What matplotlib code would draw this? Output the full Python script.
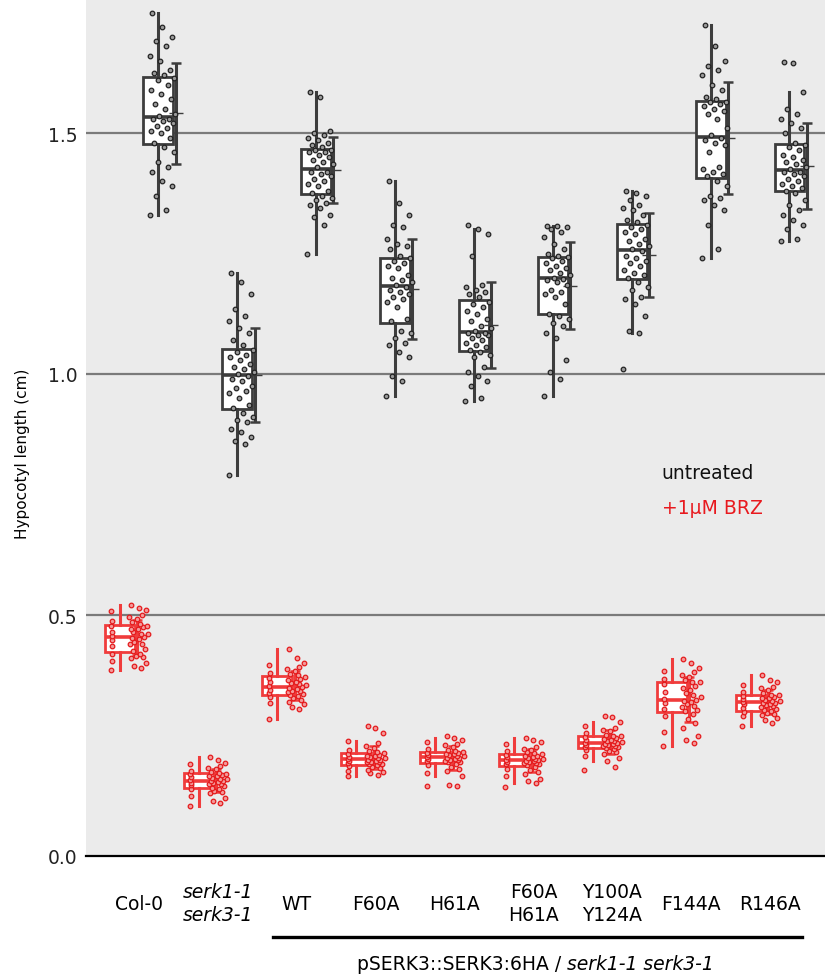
import matplotlib
matplotlib.use("Agg")
import matplotlib.pyplot as plt
import numpy as np

plt.rcParams['font.family'] = ['DejaVu Sans']

categories = ['Col-0', 'serk1-1\nserk3-1', 'WT', 'F60A', 'H61A',
              'F60A\nH61A', 'Y100A\nY124A', 'F144A', 'R146A']
group_label_plain = 'pSERK3::SERK3:6HA / '
group_label_italic = 'serk1-1 serk3-1'
ytick_values = [0.0, 0.5, 1.0, 1.5]
ytick_labels = ['0.0', '0.5', '1.0', '1.5']
legend_labels = ['untreated', '+1\u00b5M BRZ']

# ---- untreated (black) ----
unt_col0 = [1.33, 1.34, 1.37, 1.39, 1.40, 1.42, 1.43, 1.44, 1.46, 1.47,
            1.48, 1.49, 1.50, 1.505, 1.51, 1.515, 1.52, 1.525, 1.53, 1.53,
            1.535, 1.54, 1.55, 1.56, 1.57, 1.58, 1.59, 1.60, 1.61, 1.615,
            1.62, 1.625, 1.63, 1.65, 1.66, 1.68, 1.69, 1.70, 1.72, 1.75]
unt_serk = [0.79, 0.855, 0.86, 0.87, 0.88, 0.885, 0.90, 0.905, 0.91, 0.92,
            0.93, 0.935, 0.95, 0.96, 0.965, 0.97, 0.975, 0.985, 0.99, 0.995,
            1.0, 1.005, 1.01, 1.015, 1.02, 1.03, 1.035, 1.04, 1.045, 1.05,
            1.06, 1.07, 1.085, 1.095, 1.11, 1.12, 1.135, 1.165, 1.19, 1.21]
unt_wt = [1.25, 1.31, 1.325, 1.33, 1.345, 1.35, 1.355, 1.36, 1.365, 1.37,
          1.375, 1.38, 1.39, 1.395, 1.40, 1.405, 1.41, 1.415, 1.42, 1.42,
          1.43, 1.435, 1.44, 1.445, 1.45, 1.455, 1.46, 1.46, 1.465, 1.465,
          1.47, 1.475, 1.48, 1.485, 1.49, 1.495, 1.50, 1.505, 1.575, 1.585]
unt_f60a = [0.955, 0.985, 0.995, 1.035, 1.045, 1.06, 1.065, 1.075, 1.085, 1.09,
            1.11, 1.115, 1.14, 1.15, 1.155, 1.16, 1.165, 1.17, 1.175, 1.18,
            1.185, 1.19, 1.195, 1.20, 1.205, 1.22, 1.225, 1.23, 1.235, 1.24,
            1.245, 1.26, 1.265, 1.27, 1.28, 1.305, 1.31, 1.33, 1.355, 1.40]
unt_h61a = [0.945, 0.95, 0.975, 0.985, 0.995, 1.005, 1.015, 1.035, 1.04, 1.045,
            1.05, 1.055, 1.06, 1.065, 1.07, 1.075, 1.08, 1.08, 1.085, 1.085,
            1.09, 1.095, 1.10, 1.11, 1.115, 1.125, 1.13, 1.14, 1.145, 1.15,
            1.16, 1.165, 1.17, 1.175, 1.18, 1.185, 1.245, 1.29, 1.30, 1.31]
unt_f60h61 = [0.955, 0.99, 1.005, 1.03, 1.075, 1.085, 1.10, 1.105, 1.115, 1.12,
              1.125, 1.145, 1.16, 1.165, 1.17, 1.175, 1.185, 1.19, 1.195, 1.198,
              1.20, 1.205, 1.21, 1.215, 1.22, 1.225, 1.23, 1.235, 1.24, 1.242,
              1.245, 1.25, 1.26, 1.27, 1.285, 1.295, 1.30, 1.305, 1.307, 1.307]
unt_y100 = [1.01, 1.085, 1.09, 1.12, 1.145, 1.155, 1.16, 1.175, 1.18, 1.19,
            1.20, 1.205, 1.21, 1.215, 1.225, 1.23, 1.235, 1.24, 1.245, 1.255,
            1.26, 1.265, 1.27, 1.275, 1.28, 1.29, 1.295, 1.30, 1.305, 1.31,
            1.315, 1.32, 1.33, 1.34, 1.345, 1.35, 1.36, 1.37, 1.375, 1.38]
unt_f144a = [1.24, 1.26, 1.31, 1.34, 1.35, 1.36, 1.365, 1.37, 1.39, 1.40,
             1.41, 1.415, 1.42, 1.425, 1.43, 1.46, 1.475, 1.48, 1.485, 1.49,
             1.495, 1.51, 1.53, 1.54, 1.545, 1.55, 1.555, 1.56, 1.565, 1.565,
             1.57, 1.575, 1.59, 1.60, 1.62, 1.63, 1.64, 1.65, 1.68, 1.725]
unt_r146a = [1.275, 1.28, 1.30, 1.31, 1.32, 1.33, 1.34, 1.35, 1.36, 1.375,
             1.38, 1.385, 1.39, 1.395, 1.40, 1.405, 1.41, 1.415, 1.42, 1.42,
             1.425, 1.43, 1.435, 1.44, 1.445, 1.45, 1.455, 1.465, 1.47, 1.475,
             1.48, 1.50, 1.51, 1.52, 1.53, 1.54, 1.55, 1.585, 1.645, 1.648]

# ---- +1uM BRZ (red) ----
brz_col0 = [0.386, 0.39, 0.395, 0.40, 0.405, 0.41, 0.413, 0.415, 0.42, 0.42,
            0.425, 0.43, 0.435, 0.44, 0.44, 0.445, 0.449, 0.45, 0.452, 0.454,
            0.456, 0.46, 0.46, 0.465, 0.465, 0.47, 0.47, 0.475, 0.477, 0.478,
            0.481, 0.485, 0.488, 0.492, 0.496, 0.50, 0.508, 0.51, 0.515, 0.52]
brz_serk = [0.104, 0.11, 0.115, 0.12, 0.125, 0.13, 0.133, 0.135, 0.138, 0.14,
            0.142, 0.145, 0.147, 0.149, 0.15, 0.151, 0.152, 0.153, 0.155, 0.156,
            0.157, 0.159, 0.16, 0.162, 0.164, 0.165, 0.167, 0.168, 0.17, 0.171,
            0.173, 0.175, 0.177, 0.18, 0.183, 0.187, 0.19, 0.193, 0.20, 0.205]
brz_wt = [0.284, 0.305, 0.309, 0.315, 0.317, 0.32, 0.324, 0.327, 0.33, 0.332,
          0.335, 0.337, 0.338, 0.34, 0.342, 0.343, 0.345, 0.347, 0.348, 0.35,
          0.352, 0.355, 0.357, 0.358, 0.36, 0.362, 0.365, 0.367, 0.369, 0.372,
          0.376, 0.378, 0.38, 0.384, 0.388, 0.392, 0.396, 0.40, 0.411, 0.429]
brz_f60a = [0.166, 0.168, 0.172, 0.175, 0.177, 0.179, 0.182, 0.184, 0.186, 0.188,
            0.19, 0.191, 0.193, 0.194, 0.195, 0.196, 0.197, 0.198, 0.199, 0.20,
            0.202, 0.203, 0.204, 0.205, 0.206, 0.207, 0.208, 0.21, 0.211, 0.213,
            0.215, 0.218, 0.22, 0.225, 0.229, 0.234, 0.239, 0.255, 0.265, 0.27]
brz_h61a = [0.145, 0.146, 0.147, 0.165, 0.172, 0.176, 0.18, 0.185, 0.188, 0.191,
            0.194, 0.196, 0.197, 0.198, 0.199, 0.20, 0.201, 0.202, 0.203, 0.204,
            0.206, 0.207, 0.208, 0.209, 0.21, 0.211, 0.212, 0.213, 0.214, 0.215,
            0.217, 0.219, 0.222, 0.226, 0.23, 0.233, 0.236, 0.24, 0.245, 0.249]
brz_f60h61 = [0.143, 0.152, 0.156, 0.16, 0.165, 0.17, 0.175, 0.178, 0.181, 0.185,
              0.188, 0.19, 0.191, 0.192, 0.193, 0.195, 0.196, 0.197, 0.198, 0.199,
              0.20, 0.201, 0.202, 0.203, 0.205, 0.206, 0.207, 0.208, 0.21, 0.211,
              0.213, 0.215, 0.218, 0.22, 0.222, 0.226, 0.232, 0.236, 0.24, 0.245]
brz_y100 = [0.179, 0.184, 0.197, 0.203, 0.208, 0.212, 0.215, 0.218, 0.22, 0.222,
            0.225, 0.226, 0.227, 0.228, 0.229, 0.23, 0.231, 0.232, 0.233, 0.234,
            0.235, 0.236, 0.238, 0.239, 0.24, 0.241, 0.243, 0.245, 0.246, 0.248,
            0.25, 0.252, 0.255, 0.259, 0.262, 0.265, 0.27, 0.278, 0.289, 0.291]
brz_f144a = [0.228, 0.235, 0.241, 0.249, 0.257, 0.265, 0.276, 0.284, 0.29, 0.295,
             0.30, 0.303, 0.306, 0.309, 0.312, 0.315, 0.317, 0.32, 0.322, 0.323,
             0.326, 0.33, 0.334, 0.338, 0.341, 0.344, 0.348, 0.353, 0.356, 0.36,
             0.362, 0.365, 0.368, 0.371, 0.376, 0.382, 0.384, 0.39, 0.40, 0.409]
brz_r146a = [0.27, 0.276, 0.282, 0.286, 0.29, 0.293, 0.295, 0.297, 0.299, 0.30,
             0.302, 0.305, 0.307, 0.309, 0.311, 0.313, 0.315, 0.316, 0.317, 0.318,
             0.32, 0.321, 0.322, 0.324, 0.326, 0.327, 0.328, 0.33, 0.332, 0.333,
             0.335, 0.338, 0.341, 0.344, 0.348, 0.351, 0.355, 0.361, 0.366, 0.375]

untreated = [unt_col0, unt_serk, unt_wt, unt_f60a, unt_h61a,
             unt_f60h61, unt_y100, unt_f144a, unt_r146a]
brz = [brz_col0, brz_serk, brz_wt, brz_f60a, brz_h61a,
       brz_f60h61, brz_y100, brz_f144a, brz_r146a]

BLACK = '#3d3d3d'
RED = '#f03c3c'
FS = 13.5

fig = plt.figure(figsize=(8.25, 9.79), dpi=100)
ax = fig.add_axes([86 / 825, 1 - 857 / 979, 1 - 86 / 825, 857 / 979])
ax.set_facecolor('#ebebeb')

n = len(categories)
base = np.arange(n)


def draw(series, offset, color, pt_face, pt_edge, red_style):
    pos = base + offset
    ax.boxplot(series, positions=pos, widths=0.38, whis=1.5, showfliers=False,
               showcaps=False, patch_artist=True, manage_ticks=False,
               boxprops=dict(facecolor='white', edgecolor=color, linewidth=2.0),
               medianprops=dict(color=color, linewidth=2.6),
               whiskerprops=dict(color=color, linewidth=2.2),
               zorder=2)
    means = [np.mean(v) for v in series]
    sds = [np.std(v, ddof=1) for v in series]
    ex = pos + 0.22
    ax.errorbar(ex, means, yerr=sds, fmt='none', ecolor=color, elinewidth=2.2,
                capsize=3.5, capthick=1.8, zorder=3)
    ax.hlines(means, ex - 0.09, ex + 0.09, color=color, lw=1.0, zorder=3)
    golden = 0.6180339887
    for p, vals in zip(pos, series):
        xs = []
        for k in range(len(vals)):
            f = (k * golden) % 1.0
            if red_style:
                if k % 4 == 0:
                    xs.append(p - 0.11 + 0.02 * f)
                else:
                    xs.append(p + 0.12 + 0.25 * f)
            else:
                xs.append(p - 0.11 + 0.33 * f)
        ax.plot(xs, vals, 'o', ms=3.3, mfc=pt_face, mec=pt_edge, mew=0.9,
                ls='none', zorder=4)


draw(untreated, 0.245, BLACK, '#9a9a9a', '#222222', False)
draw(brz, -0.245, RED, '#f39a9a', '#e41a1c', True)

# grid & axes styling
for gy in ytick_values[1:]:
    ax.axhline(gy, color='#7a7a7a', lw=1.6, zorder=1)
ax.set_xlim(-0.672, 8.695)
ax.set_ylim(0, 857 / 482)
for s in ['top', 'right', 'left']:
    ax.spines[s].set_visible(False)
ax.spines['bottom'].set_color('black')
ax.spines['bottom'].set_linewidth(1.6)

ax.set_yticks(ytick_values)
ax.set_yticklabels(ytick_labels, fontsize=FS)
ax.tick_params(axis='y', length=0, pad=6, colors='#222222')
ax.set_xticks(base)
ax.set_xticklabels(categories, fontsize=FS, linespacing=1.3)
ax.tick_params(axis='x', length=0, pad=34)
for lbl in ax.get_xticklabels():
    lbl.set_va('center')
ax.get_xticklabels()[1].set_style('italic')

ax.set_ylabel('Hypocotyl length (cm)', fontsize=11)
ax.yaxis.set_label_coords(-0.076, 0.471)

# legend-like texts
ax.text(0.779, 0.447, legend_labels[0], transform=ax.transAxes, fontsize=FS,
        color='#111111', va='center', ha='left')
ax.text(0.779, 0.407, legend_labels[1], transform=ax.transAxes, fontsize=FS,
        color='#e8191e', va='center', ha='left')

# group bracket line and label
ax.plot([1.70, 8.40], [-0.0945, -0.0945], color='black', lw=2.4,
        transform=ax.get_xaxis_transform(), clip_on=False)
t1 = ax.text(2.763, -0.132, group_label_plain, transform=ax.get_xaxis_transform(),
             ha='left', va='baseline', fontsize=FS, clip_on=False)
fig.canvas.draw()
bb = t1.get_window_extent()
x_end = ax.transData.inverted().transform((bb.x1, bb.y0))[0]
ax.text(x_end, -0.132, group_label_italic, transform=ax.get_xaxis_transform(),
        ha='left', va='baseline', fontsize=FS, style='italic', clip_on=False)

fig.savefig('out.png', dpi=100)
